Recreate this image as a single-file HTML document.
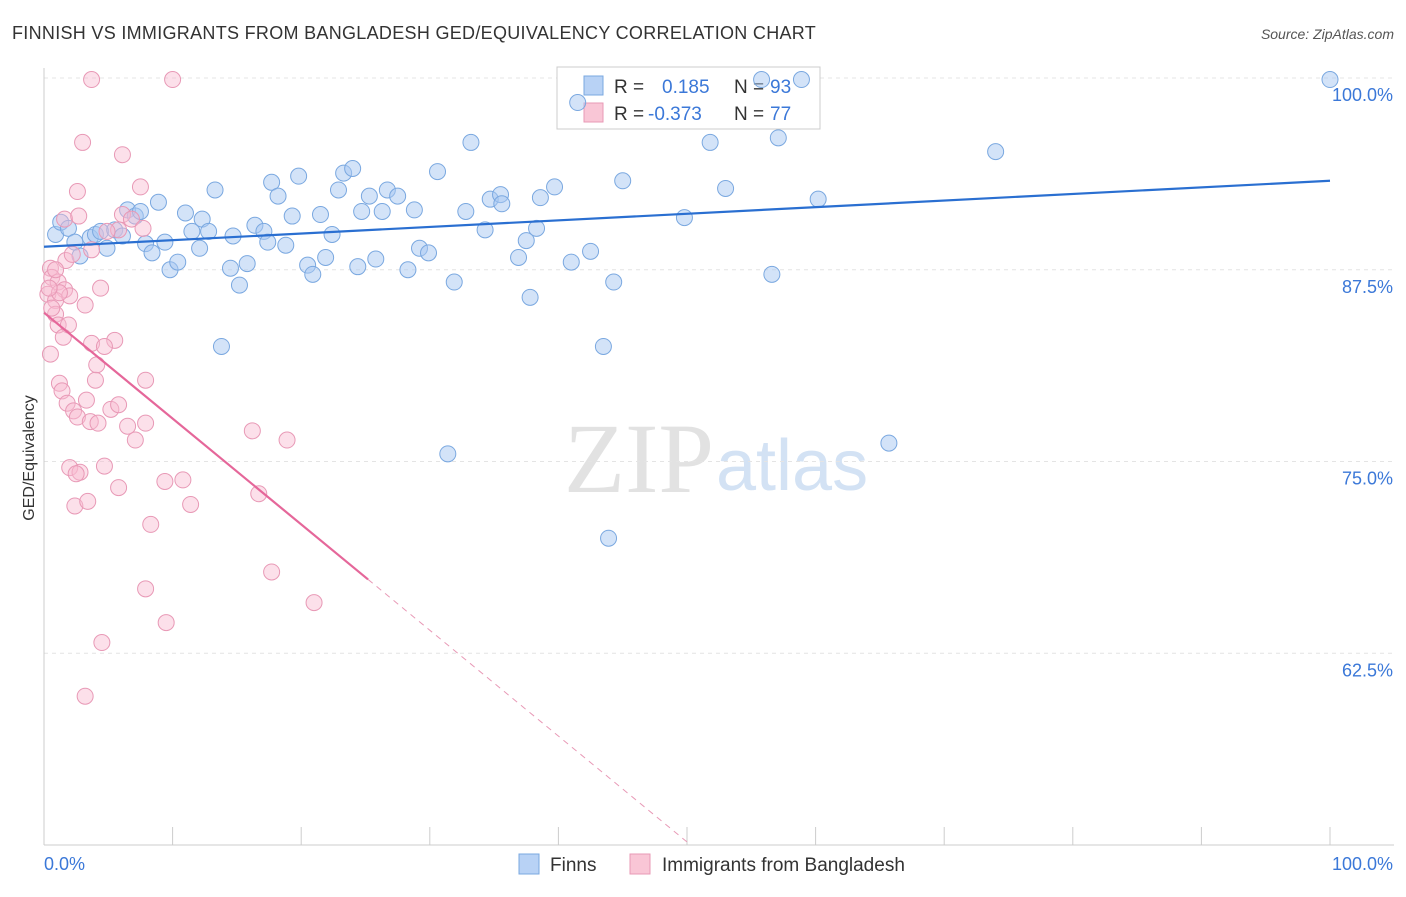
<!DOCTYPE html>
<html><head><meta charset="utf-8"><style>
body{margin:0;background:#fff;font-family:"Liberation Sans",sans-serif;}
</style></head><body>
<svg id="chart" width="1406" height="892" viewBox="0 0 1406 892" xmlns="http://www.w3.org/2000/svg" font-family="Liberation Sans, sans-serif">
<text x="12" y="39" font-size="18" letter-spacing="0.3" fill="#333">FINNISH VS IMMIGRANTS FROM BANGLADESH GED/EQUIVALENCY CORRELATION CHART</text>
<text x="1394" y="39" font-size="14" fill="#555" font-style="italic" text-anchor="end">Source: ZipAtlas.com</text>
<text x="714" y="492" font-size="100" fill="#e2e2e2" text-anchor="end" font-family="Liberation Serif, serif">ZIP</text>
<text x="716" y="490" font-size="72" fill="#d3e2f4">atlas</text>
<g id="grid"></g>
<g id="axes"></g>
<text transform="translate(34,458) rotate(-90)" font-size="16" fill="#333" text-anchor="middle">GED/Equivalency</text>
<g>
<rect x="557" y="67" width="263" height="62" fill="#fff" stroke="#ccc"/>
<rect x="584" y="76" width="19" height="19" fill="#b8d2f5" stroke="#7aa8e0"/>
<rect x="584" y="103" width="19" height="19" fill="#f9c6d6" stroke="#e899b6"/>
<text x="614" y="93" font-size="19" fill="#333">R = </text><text x="662" y="93" font-size="19" fill="#3b78d8">0.185</text>
<text x="734" y="93" font-size="19" fill="#333">N = </text><text x="770" y="93" font-size="19" fill="#3b78d8">93</text>
<text x="614" y="120" font-size="19" fill="#333">R = </text><text x="648" y="120" font-size="19" fill="#3b78d8">-0.373</text>
<text x="734" y="120" font-size="19" fill="#333">N = </text><text x="770" y="120" font-size="19" fill="#3b78d8">77</text>
</g>
<g>
<rect x="519" y="854" width="20" height="20" fill="#b8d2f5" stroke="#7aa8e0"/>
<text x="550" y="871" font-size="19" fill="#333">Finns</text>
<rect x="630" y="854" width="20" height="20" fill="#f9c6d6" stroke="#e899b6"/>
<text x="662" y="871" font-size="19" fill="#333">Immigrants from Bangladesh</text>
</g>
<g id="marks"></g>
</svg>
<script>
const blueX=[0.9,1.3,1.9,2.4,2.8,3.6,4.0,4.4,4.9,5.5,6.1,6.5,7.1,7.5,7.9,8.4,8.9,9.4,9.8,10.4,11.0,11.5,12.1,12.3,12.8,13.3,14.5,14.7,15.2,13.8,15.8,16.4,17.1,17.4,17.7,18.2,18.8,19.3,19.8,20.5,20.9,21.5,21.9,22.4,22.9,23.3,24.0,24.4,24.7,25.3,25.8,26.3,26.7,27.5,28.3,28.8,29.2,29.9,30.6,31.4,31.9,32.8,33.2,34.3,34.7,35.5,35.6,36.9,37.5,37.8,38.3,38.6,39.7,41.0,42.5,43.5,43.9,44.3,45.0,49.8,51.8,53.0,55.8,56.6,57.1,58.9,60.2,65.7,74.0,100,41.5];
const blueY=[89.8,90.6,90.2,89.3,88.4,89.6,89.8,90.0,88.9,90.1,89.7,91.4,91.0,91.3,89.2,88.6,91.9,89.3,87.5,88.0,91.2,90.0,88.9,90.8,90.0,92.7,87.6,89.7,86.5,82.5,87.9,90.4,90.0,89.3,93.2,92.3,89.1,91.0,93.6,87.8,87.2,91.1,88.3,89.8,92.7,93.8,94.1,87.7,91.3,92.3,88.2,91.3,92.7,92.3,87.5,91.4,88.9,88.6,93.9,75.5,86.7,91.3,95.8,90.1,92.1,92.4,91.8,88.3,89.4,85.7,90.2,92.2,92.9,88.0,88.7,82.5,70.0,86.7,93.3,90.9,95.8,92.8,99.9,87.2,96.1,99.9,92.1,76.2,95.2,99.9,98.4];
const pinkX=[3.7,10.0,3.0,6.1,2.6,7.5,1.6,2.7,6.1,6.8,7.7,3.7,1.7,0.5,0.6,1.1,1.6,0.3,0.9,2.0,3.2,4.4,0.9,1.1,1.9,0.5,1.5,3.7,5.5,4.7,4.1,4.0,7.9,1.2,1.4,1.8,3.3,2.3,2.6,5.2,5.8,3.6,4.2,7.9,6.5,7.1,16.2,18.9,2.0,2.8,4.7,2.4,3.4,5.8,9.4,10.8,11.4,8.3,16.7,17.7,7.9,21.0,9.5,4.5,3.2,2.5,5.8,4.9,1.2,0.4,0.6,0.9,2.2];
const pinkY=[99.9,99.9,95.8,95.0,92.6,92.9,90.8,91.0,91.1,90.8,90.2,88.8,88.1,87.6,87.0,86.7,86.2,85.9,85.5,85.8,85.2,86.3,84.6,83.9,83.9,82.0,83.1,82.7,82.9,82.5,81.3,80.3,80.3,80.1,79.6,78.8,79.0,78.3,77.9,78.4,78.7,77.6,77.5,77.5,77.3,76.4,77.0,76.4,74.6,74.3,74.7,72.1,72.4,73.3,73.7,73.8,72.2,70.9,72.9,67.8,66.7,65.8,64.5,63.2,59.7,74.2,90.1,90.0,86.0,86.3,85.0,87.5,88.5];
const blueTrend=[89.0,93.3];
const pinkTrend=[84.7,-0.69]; const pinkSolidEnd=25.2, pinkDashEnd=50;
const yTicks=[100,87.5,75,62.5];
const yTickLabels=["100.0%","87.5%","75.0%","62.5%"];
const xTicks=[0,10,20,30,40,50,60,70,80,90,100];

const NS="http://www.w3.org/2000/svg";
const sx=v=>44+v*12.86, sy=v=>845-(v-50)*15.34;
function mk(tag,attrs,parent){const e=document.createElementNS(NS,tag);for(const k in attrs)e.setAttribute(k,attrs[k]);document.getElementById(parent).appendChild(e);return e;}
yTicks.forEach((t,i)=>{
 const l=mk('line',{x1:44,x2:1394,y1:sy(t),y2:sy(t),stroke:'#e4e4e4','stroke-dasharray':'4,4'},'grid');
 
 
 const tx=mk('text',{x:1393,y:sy(t)+23,'font-size':18,fill:'#3b78d8','text-anchor':'end'},'grid');
 tx.textContent=yTickLabels[i];
 
 
});
const ax=mk('line',{x1:44,x2:1394,y1:845,y2:845,stroke:'#ccc'},'axes');


const ay=mk('line',{x1:44,x2:44,y1:68,y2:845,stroke:'#ccc'},'axes');


xTicks.forEach(t=>{const l=mk('line',{x1:sx(t),x2:sx(t),y1:827,y2:845,stroke:'#ccc'},'axes');
 
 });
[["0.0%",44,'start'],["100.0%",1393,'end']].forEach(a=>{const t=mk('text',{x:a[1],y:870,'font-size':18,fill:'#3b78d8','text-anchor':a[2]},'axes');t.textContent=a[0];
 
 });
blueX.forEach((x,i)=>{const c=mk('circle',{cx:sx(x),cy:sy(blueY[i]),r:8,fill:'rgba(168,200,242,0.5)',stroke:'#7aa8e0','stroke-width':1},'marks');
 
 });
pinkX.forEach((x,i)=>{const c=mk('circle',{cx:sx(x),cy:sy(pinkY[i]),r:8,fill:'rgba(248,186,208,0.45)',stroke:'#e899b6','stroke-width':1},'marks');
 
 });
const bl=mk('line',{x1:sx(0),y1:sy(blueTrend[0]),x2:sx(100),y2:sy(blueTrend[1]),stroke:'#2a6fd1','stroke-width':2.2},'marks');


const pf=x=>pinkTrend[0]+pinkTrend[1]*x;
const pl=mk('line',{x1:sx(0),y1:sy(pf(0)),x2:sx(pinkSolidEnd),y2:sy(pf(pinkSolidEnd)),stroke:'#e5679a','stroke-width':2.2},'marks');


const pd=mk('line',{x1:sx(pinkSolidEnd),y1:sy(pf(pinkSolidEnd)),x2:sx(pinkDashEnd),y2:sy(pf(pinkDashEnd)),stroke:'#e899b6','stroke-width':1,'stroke-dasharray':'6,5'},'marks');


</script>
</body></html>
